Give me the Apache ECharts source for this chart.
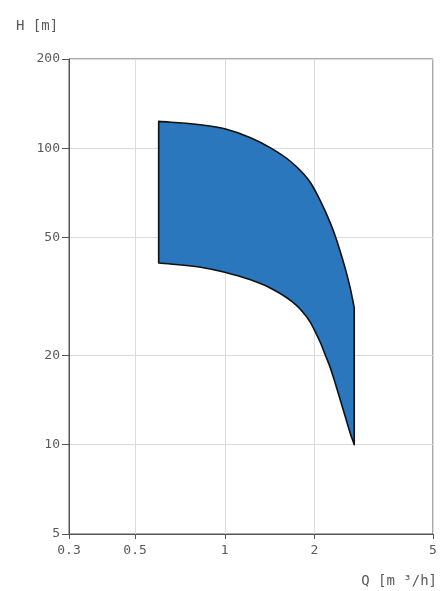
<!DOCTYPE html>
<html><head><meta charset="utf-8">
<script src="https://cdn.jsdelivr.net/npm/echarts@6/dist/echarts.min.js"></script>
<style>html,body{margin:0;padding:0;background:#fff}#c{width:442px;height:591px}</style>
</head><body><div id="c"></div>
<script>
// Tick labels
const xTicks = [0.3, 0.5, 1, 2, 5];
const yTicks = [5, 10, 20, 50, 100, 200];
// Upper limit curve (Q in m³/h, H in m)
const qTop = [0.6, 0.8, 1.0, 1.22, 1.42, 1.66, 1.79, 1.94, 2.09, 2.26, 2.35, 2.44, 2.54, 2.64, 2.72];
const hTop = [123.2, 120.5, 116.3, 108.5, 100.5, 90.4, 84.3, 76.5, 66.7, 56.0, 50.5, 44.9, 39.2, 33.6, 29];
// Lower limit curve
const qBot = [0.6, 0.83, 1.0, 1.22, 1.42, 1.66, 1.79, 1.94, 2.01, 2.09, 2.17, 2.26, 2.35, 2.44, 2.54, 2.64, 2.72];
const hBot = [41, 39.7, 38.2, 36.0, 33.8, 30.7, 28.7, 25.8, 24.1, 22.2, 20.2, 18.2, 16.1, 14.2, 12.4, 10.9, 10];

const L = Math.log10;
const FONT = 'DejaVu Sans Mono';
const AX = '#555';
const TXT = '#5a5a5a';
function fmt(ticks) {
  return v => { for (const t of ticks) { if (Math.abs(L(t) - v) < 1e-6) return String(t); } return ''; };
}
// smooth path through points treating y as a function of x (cubic Hermite)
function hermitePath(pts, first) {
  const n = pts.length;
  const h = [], d = [];
  for (let i = 0; i < n - 1; i++) {
    h.push(pts[i + 1][0] - pts[i][0]);
    d.push((pts[i + 1][1] - pts[i][1]) / h[i]);
  }
  const m = [];
  for (let i = 0; i < n; i++) {
    if (i === 0) m.push(d[0]);
    else if (i === n - 1) m.push(d[n - 2]);
    else {
      const a = Math.abs(h[i - 1]), b = Math.abs(h[i]);
      m.push((d[i] * a + d[i - 1] * b) / (a + b));
    }
  }
  let s = (first ? 'M' : 'L') + pts[0][0] + ',' + pts[0][1];
  for (let i = 0; i < n - 1; i++) {
    const p1 = pts[i], p2 = pts[i + 1], k = h[i] / 3;
    s += 'C' + (p1[0] + k) + ',' + (p1[1] + m[i] * k) + ' ' + (p2[0] - k) + ',' + (p2[1] - m[i + 1] * k) + ' ' + p2[0] + ',' + p2[1];
  }
  return s;
}

const chart = echarts.init(document.getElementById('c'), null, { renderer: 'canvas' });
chart.setOption({
  animation: false,
  grid: { left: 69, right: 9, top: 59, bottom: 57, show: true, borderColor: AX, borderWidth: 1 },
  xAxis: {
    type: 'value', min: L(0.3), max: L(5),
    axisLine: { show: true, onZero: false, lineStyle: { color: AX, width: 1 } },
    axisTick: { show: true, customValues: xTicks.map(L), length: 5, lineStyle: { color: AX } },
    axisLabel: { customValues: xTicks.map(L), formatter: fmt(xTicks), margin: 10, color: TXT, fontFamily: FONT, fontSize: 13 },
    splitLine: { show: true, lineStyle: { color: '#dcdcdc', width: 1 } }
  },
  yAxis: {
    type: 'value', min: L(5), max: L(200),
    axisLine: { show: true, onZero: false, lineStyle: { color: AX, width: 1 } },
    axisTick: { show: true, customValues: yTicks.map(L), length: 7, lineStyle: { color: AX } },
    axisLabel: { customValues: yTicks.map(L), formatter: fmt(yTicks), margin: 9, color: TXT, fontFamily: FONT, fontSize: 13 },
    splitLine: { show: true, lineStyle: { color: '#dcdcdc', width: 1 } }
  },
  graphic: [
    { type: 'text', left: 16, top: 19, style: { text: 'H [m]', fill: TXT, font: '14px ' + FONT } },
    { type: 'text', right: 5, top: 574, style: { text: 'Q [m ³/h]', fill: TXT, font: '14px ' + FONT } }
  ],
  series: [{
    type: 'custom',
    coordinateSystem: 'cartesian2d',
    data: [[L(qTop[0]), L(hTop[0])]],
    renderItem: function (params, api) {
      const top = qTop.map((q, i) => api.coord([L(q), L(hTop[i])]));
      const bot = qBot.map((q, i) => api.coord([L(q), L(hBot[i])])).reverse();
      const d = hermitePath(top, true) + hermitePath(bot, false) + 'Z';
      return {
        type: 'path',
        shape: { pathData: d },
        style: { fill: '#2a77bd', stroke: '#111', lineWidth: 1.6, lineJoin: 'round' }
      };
    }
  }]
});
</script>
</body></html>
